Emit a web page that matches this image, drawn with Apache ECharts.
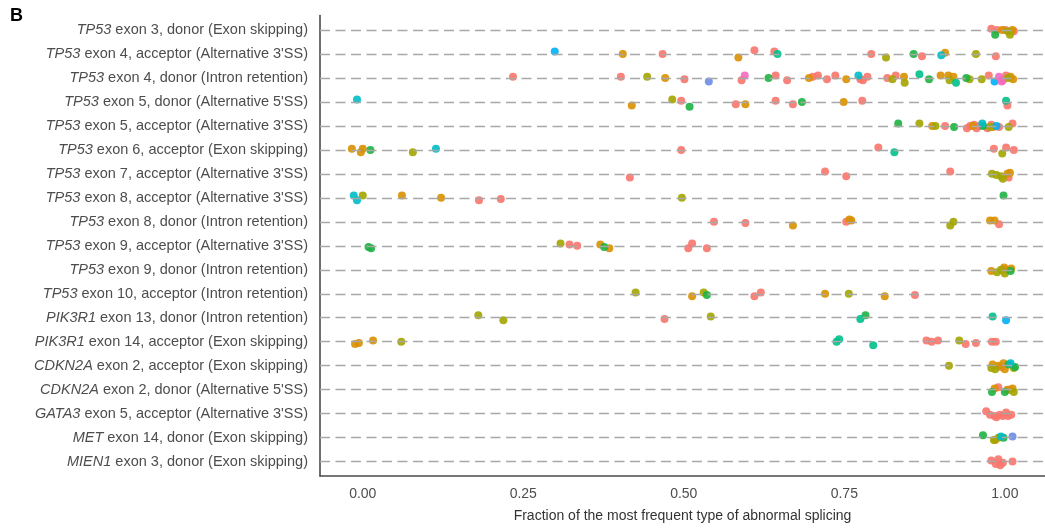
<!DOCTYPE html>
<html>
<head>
<meta charset="utf-8">
<script src="https://cdn.jsdelivr.net/npm/echarts@6/dist/echarts.min.js"></script>
<style>
html,body{margin:0;padding:0;background:#fff;}
#chart{width:1045px;height:528px;}
</style>
</head>
<body>
<div id="chart"></div>
<script>
// ---- Data ----
const genes = ['TP53','TP53','TP53','TP53','TP53','TP53','TP53','TP53','TP53','TP53','TP53','TP53','PIK3R1','PIK3R1','CDKN2A','CDKN2A','GATA3','MET','MIEN1'];
const details = [
  "exon 3, donor (Exon skipping)",
  "exon 4, acceptor (Alternative 3'SS)",
  "exon 4, donor (Intron retention)",
  "exon 5, donor (Alternative 5'SS)",
  "exon 5, acceptor (Alternative 3'SS)",
  "exon 6, acceptor (Exon skipping)",
  "exon 7, acceptor (Alternative 3'SS)",
  "exon 8, acceptor (Alternative 3'SS)",
  "exon 8, donor (Intron retention)",
  "exon 9, acceptor (Alternative 3'SS)",
  "exon 9, donor (Intron retention)",
  "exon 10, acceptor (Intron retention)",
  "exon 13, donor (Intron retention)",
  "exon 14, acceptor (Exon skipping)",
  "exon 2, acceptor (Exon skipping)",
  "exon 2, donor (Alternative 5'SS)",
  "exon 5, acceptor (Alternative 3'SS)",
  "exon 14, donor (Exon skipping)",
  "exon 3, donor (Exon skipping)"
];
const xTicks = [0, 0.25, 0.5, 0.75, 1.0];
const xTitle = 'Fraction of the most frequent type of abnormal splicing';

// points: [fraction, row index, vertical jitter]
const salmon = [
  [0.979,0,-0.05],[0.988,0,0],[1.001,0,0],[1.014,0,0.05],
  [0.467,1,0],[0.610,1,-0.15],[0.641,1,-0.1],[0.792,1,0],[0.871,1,0.1],[0.986,1,0.1],
  [0.234,2,-0.05],[0.402,2,-0.05],[0.501,2,0.05],[0.590,2,0.1],[0.643,2,-0.1],[0.661,2,0.1],[0.701,2,-0.05],[0.709,2,-0.1],[0.723,2,0.05],[0.736,2,-0.1],[0.775,2,0.05],[0.779,2,0.1],[0.786,2,-0.05],[0.817,2,0],[0.830,2,-0.1],[0.975,2,-0.1],[0.997,2,0.1],[1.002,2,-0.1],
  [0.496,3,-0.05],[0.581,3,0.1],[0.643,3,-0.05],[0.670,3,0.1],[0.778,3,-0.05],[1.004,3,0.15],
  [0.907,4,0],[0.941,4,0.1],[0.946,4,0],[0.952,4,-0.05],[0.956,4,0.1],[0.960,4,0],[0.973,4,0.1],[0.979,4,-0.05],[0.991,4,0.05],[1.012,4,-0.1],
  [0.496,5,0],[0.803,5,-0.1],[0.983,5,-0.05],[1.002,5,-0.1],[1.014,5,0],
  [0.416,6,0.15],[0.720,6,-0.1],[0.753,6,0.1],[0.915,6,-0.1],[1.006,6,0.15],
  [0.181,7,0.1],[0.215,7,0.05],
  [0.547,8,0],[0.596,8,0.05],[0.753,8,0],[0.991,8,0.1],
  [0.322,9,-0.05],[0.334,9,0],[0.507,9,0.1],[0.513,9,-0.1],[0.536,9,0.1],
  [0.610,11,0.1],[0.620,11,-0.05],[0.860,11,0.05],
  [0.470,12,0.05],
  [0.878,13,-0.05],[0.886,13,0],[0.896,13,-0.05],[0.939,13,0.1],[0.955,13,0.05],[0.980,13,0],[0.986,13,0],
  [0.994,14,0.05],
  [0.990,15,-0.1],[1.007,15,0],
  [0.971,16,-0.1],[0.977,16,0.05],[0.984,16,0.1],[0.987,16,0.15],[0.992,16,0.05],[0.997,16,0.1],[1.002,16,-0.05],[1.005,16,0.1],[1.010,16,0.05],
  [0.979,18,-0.05],[0.986,18,0.1],[0.990,18,-0.1],[0.993,18,0.15],[0.997,18,0.05],[1.012,18,0]
];
const orange = [
  [0.996,0,0],[1.012,0,0],
  [0.405,1,0],[0.585,1,0.15],[0.907,1,-0.05],
  [0.471,2,0],[0.695,2,0],[0.753,2,0.05],[0.843,2,-0.05],[0.900,2,-0.1],[0.912,2,-0.1],[0.920,2,-0.05],[1.009,2,-0.05],[1.013,2,0.05],
  [0.419,3,0.15],[0.596,3,0.1],[0.749,3,0],
  [0.887,4,0],[0.950,4,0],[0.982,4,0.05],
  [-0.017,5,-0.05],[-0.003,5,0.1],[0.000,5,-0.05],
  [1.004,6,0],[1.008,6,-0.05],
  [0.061,7,-0.1],[0.122,7,0],
  [0.670,8,0.15],[0.758,8,-0.1],[0.761,8,-0.05],[0.977,8,-0.05],[0.984,8,-0.05],
  [0.370,9,-0.05],[0.384,9,0.1],
  [0.979,10,0.05],[0.999,10,-0.1],[1.003,10,0],[1.010,10,-0.05],
  [0.513,11,0.1],[0.720,11,0],[0.813,11,0.1],
  [-0.012,13,0.1],[-0.006,13,0.05],[0.016,13,-0.05],
  [0.981,14,-0.05],[0.990,14,0],[0.998,14,-0.1],[1.000,14,0.15],
  [0.984,15,-0.05],[1.004,15,0],[1.012,15,-0.05],
  [0.985,17,0.1]
];
const olive = [
  [1.005,0,0.05],[1.008,0,0.2],
  [0.815,1,0.15],[0.955,1,0],
  [0.443,2,-0.05],[0.825,2,0.05],[0.844,2,0.2],[0.914,2,0.1],[0.945,2,0.05],[0.964,2,0.05],[1.005,2,0],
  [0.482,3,-0.1],
  [0.867,4,-0.1],[0.892,4,0],[0.977,4,0.05],[1.006,4,0.05],
  [0.078,5,0.1],[0.996,5,0.15],
  [0.980,6,0],[0.987,6,0.05],[0.994,6,0.1],[0.997,6,0.2],
  [0.000,7,-0.1],[0.497,7,0],
  [0.915,8,0.15],[0.920,8,0],
  [0.308,9,-0.1],
  [0.988,10,0.1],[0.994,10,0],[1.000,10,0.15],
  [0.425,11,-0.05],[0.531,11,-0.05],[0.757,11,0],
  [0.180,12,-0.1],[0.219,12,0.1],[0.542,12,-0.05],
  [0.060,13,0],[0.929,13,-0.05],
  [0.913,14,0],[0.979,14,0.1],[0.985,14,0.15],[1.014,14,0.1],
  [1.014,15,0.1],
  [0.983,17,0.1],[0.990,17,0]
];
const green = [
  [0.985,0,0.2],
  [0.858,1,0],
  [0.632,2,0],[0.882,2,0.05],[0.940,2,0],
  [0.509,3,0.2],[0.684,3,0],
  [0.834,4,-0.1],[0.921,4,0.05],[0.966,4,0],
  [0.012,5,0],
  [0.998,7,-0.1],
  [0.009,9,0.05],[0.013,9,0.1],[0.376,9,0.05],
  [1.009,10,0.05],
  [0.536,11,0.05],
  [0.783,12,-0.1],
  [1.006,14,-0.05],[1.016,14,0.05],
  [0.980,15,0.1],[1.000,15,0.1],
  [0.966,17,-0.1],[0.998,17,0]
];
const teal = [
  [0.646,1,0],
  [0.867,2,-0.15],[0.924,2,0.2],
  [1.002,3,-0.05],
  [0.828,5,0.1],
  [0.775,12,0.05],[0.981,12,-0.05],
  [0.738,13,0],[0.742,13,-0.1],[0.795,13,0.15]
];
const cyan = [
  [0.901,1,0.05],
  [0.772,2,-0.1],
  [-0.009,3,-0.1],
  [0.965,4,-0.1],
  [0.114,5,-0.05],
  [-0.014,7,-0.1],[-0.009,7,0.1],
  [1.009,14,-0.1],
  [0.994,17,-0.05]
];
const sky = [
  [0.299,1,-0.1],
  [0.984,2,0.15],
  [0.987,4,0],
  [1.002,12,0.1]
];
const blue = [
  [0.539,2,0.15],
  [1.012,17,-0.05]
];
const pink = [
  [0.595,2,-0.1],[0.991,2,-0.05],[0.995,2,0.15]
];

const groups = [
  {name:'salmon', color:'#F8766D', pts:salmon},
  {name:'orange', color:'#D89000', pts:orange},
  {name:'olive',  color:'#A3A500', pts:olive},
  {name:'green',  color:'#1DB341', pts:green},
  {name:'teal',   color:'#00C08B', pts:teal},
  {name:'cyan',   color:'#00BCC8', pts:cyan},
  {name:'sky',    color:'#00B0F6', pts:sky},
  {name:'blue',   color:'#6C8CE6', pts:blue},
  {name:'pink',   color:'#F468C0', pts:pink}
];

const FONT = '"Liberation Sans", Arial, Helvetica, sans-serif';
const rowIdx = genes.map((g,i)=>i);

const series = [{
  type:'scatter', name:'grid', data:[], z:1, silent:true,
  markLine:{
    silent:true, symbol:['none','none'], animation:false,
    label:{show:false},
    lineStyle:{type:[10,5.5], color:'#a8a8a8', width:1.4},
    data: rowIdx.map(i=>({yAxis:i}))
  }
}].concat(groups.map(g=>({
  type:'scatter', name:g.name, z:3,
  symbolSize:8,
  itemStyle:{color:g.color, opacity:0.9},
  data:g.pts.map(p=>[p[0], p[1]+p[2]])
})));

const chart = echarts.init(document.getElementById('chart'), null, {renderer:'canvas'});
chart.setOption({
  animation:false,
  backgroundColor:'#fff',
  textStyle:{fontFamily:FONT},
  graphic:[{type:'text', left:10, top:7, style:{text:'B', font:'bold 18px '+FONT, fill:'#000'}}],
  grid:{left:320, top:15.6, width:734, height:462, containLabel:false},
  xAxis:{
    type:'value', min:-0.0666, max:1.0626,
    axisLine:{show:true, onZero:false, lineStyle:{color:'#4a4a4a', width:1.6}},
    axisTick:{show:false},
    splitLine:{show:false},
    axisLabel:{customValues:xTicks, formatter:v=>v.toFixed(2), fontSize:14, color:'#4d4d4d', margin:11, fontFamily:FONT},
    name:xTitle, nameLocation:'middle', nameGap:33,
    nameTextStyle:{fontSize:14, color:'#333', fontFamily:FONT}
  },
  yAxis:{
    type:'value', min:-0.6, max:18.6, inverse:true,
    axisLine:{show:true, onZero:false, lineStyle:{color:'#4a4a4a', width:1.6}},
    axisTick:{show:false},
    splitLine:{show:false},
    axisLabel:{
      customValues:rowIdx,
      formatter:v=>{const i=Math.round(v); return '{i|'+genes[i]+'} '+details[i];},
      fontSize:14.5, color:'#4d4d4d', margin:12, fontFamily:FONT,
      rich:{i:{fontStyle:'italic', fontSize:14.5, color:'#4d4d4d', fontFamily:FONT}}
    }
  },
  series:series
});
</script>
</body>
</html>
